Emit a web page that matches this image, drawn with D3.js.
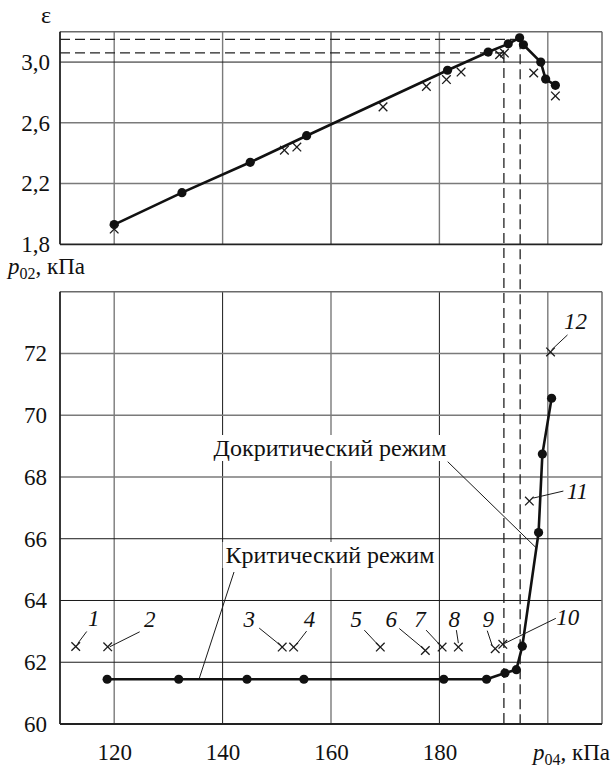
<!DOCTYPE html>
<html>
<head>
<meta charset="utf-8">
<script src="https://cdn.jsdelivr.net/npm/d3@7"></script>
<style>
  body { margin: 0; background: #fff; }
  svg { display: block; }
  text { font-family: "Liberation Serif", "Times New Roman", serif; }
</style>
</head>
<body>
<svg id="chart" width="611" height="767"></svg>
<script>
// Top chart: compression ratio vs p04 (dots = line, crosses = test points)
var p04Top = [120, 132.5, 145.1, 155.5, 181.5, 189.0, 192.7, 194.8, 195.5, 198.7, 199.6, 201.4];
var epsTop = [1.93, 2.14, 2.34, 2.515, 2.946, 3.066, 3.12, 3.16, 3.114, 3.0, 2.888, 2.847];
var p04TopCross = [120, 151.4, 153.7, 169.6, 177.6, 181.3, 184.0, 191.1, 192.0, 197.4, 201.4];
var epsTopCross = [1.90, 2.42, 2.44, 2.705, 2.84, 2.885, 2.934, 3.048, 3.059, 2.928, 2.777];

// Bottom chart: p02 vs p04
var p04Bot = [118.7, 131.9, 144.5, 155.0, 180.8, 188.7, 192.1, 194.2, 195.3, 198.3, 199.0, 200.7];
var p02Bot = [61.45, 61.45, 61.45, 61.45, 61.45, 61.45, 61.65, 61.76, 62.52, 66.2, 68.74, 70.55];
var crossIds = ["1", "2", "3", "4", "5", "6", "7", "8", "9", "10", "11", "12"];
var p04Cross = [112.9, 118.8, 151.0, 153.1, 169.1, 177.4, 180.5, 183.5, 190.3, 191.7, 196.6, 200.5];
var p02Cross = [62.51, 62.5, 62.49, 62.49, 62.49, 62.38, 62.49, 62.49, 62.44, 62.58, 67.22, 72.05];

// critical points marked with dashed lines
var critP04 = [191.9, 194.9];
var critEps = [3.06, 3.15];

// ticks
var xTicks = [120, 140, 160, 180];
var xGrid = [120, 140, 160, 180, 200];
var epsTicks = [1.8, 2.2, 2.6, 3.0];
var p02Ticks = [60, 62, 64, 66, 68, 70, 72];

// label placement for numbered crosses (label dx,dy ; leader start dx,dy ; leader end dx,dy)
var labelLayout = [
  [18, -20, 11, -15, 2, -3],
  [42, -20, 32, -15, 2, 0],
  [-33, -20, -23, -19, -2, -2],
  [16, -20, 13, -16, 3, -3],
  [-24, -20, -16, -17, -2, -2],
  [-34, -24, -26, -22, -2, -2],
  [-22, -20, -16, -17, -2, -2],
  [-4, -20, -2, -17, 0, -4],
  [-7, -22, -8, -18, -3, -3],
  [65, -19, 53, -26, 2, -1],
  [48, -2, 34, -10, 4, -3],
  [25, -23, 17, -17, 1, -2]
];

var FONT = "Liberation Serif, Times New Roman, serif";
var svg = d3.select("#chart");
var x = d3.scaleLinear().domain([110, 210]).range([60, 602]);
var yTop = d3.scaleLinear().domain([1.8, 3.2]).range([244.3, 31.7]);
var yBot = d3.scaleLinear().domain([60, 74]).range([724, 291.7]);

var ruFmt = d3.formatLocale({decimal: ",", thousands: " ", grouping: [3], currency: ["", ""]});

var gridLayer = svg.append("g");
var noteLayer = svg.append("g");
var markLayer = svg.append("g");

function panel(y, yTicks, darkX, darkY, fmt, pad) {
  var g = gridLayer.append("g");
  var y0 = y.range()[0], y1 = y.range()[1];
  // grid
  g.selectAll(".vg").data(xGrid).enter().append("line")
    .attr("x1", function(d) { return x(d); }).attr("x2", function(d) { return x(d); })
    .attr("y1", y0).attr("y2", y1)
    .attr("stroke", function(d) { return darkX.indexOf(d) >= 0 ? "#1a1a1a" : "#7a7a7a"; })
    .attr("stroke-width", function(d) { return darkX.indexOf(d) >= 0 ? 1 : 1.4; });
  g.selectAll(".hg").data(yTicks.slice(1)).enter().append("line")
    .attr("x1", 60).attr("x2", 602)
    .attr("y1", function(d) { return y(d); }).attr("y2", function(d) { return y(d); })
    .attr("stroke", function(d) { return darkY.indexOf(d) >= 0 ? "#1a1a1a" : "#7a7a7a"; })
    .attr("stroke-width", function(d) { return darkY.indexOf(d) >= 0 ? 1 : 1.4; });
  // frame: top/right light, left/bottom heavy
  g.append("line").attr("x1", 60).attr("x2", 602).attr("y1", y1).attr("y2", y1)
    .attr("stroke", "#6a6a6a").attr("stroke-width", 1.5);
  g.append("line").attr("x1", 602).attr("x2", 602).attr("y1", y1).attr("y2", y0)
    .attr("stroke", "#6a6a6a").attr("stroke-width", 1.5);
  g.append("line").attr("x1", 60).attr("x2", 602).attr("y1", y0).attr("y2", y0)
    .attr("stroke", "#222").attr("stroke-width", 1.8);
  g.append("line").attr("x1", 60).attr("x2", 60).attr("y1", y1).attr("y2", y0)
    .attr("stroke", "#222").attr("stroke-width", 1.8);
  // y axis labels
  var ax = g.append("g").attr("transform", "translate(60,0)")
    .call(d3.axisLeft(y).tickValues(yTicks).tickSize(0).tickPadding(pad).tickFormat(fmt));
  ax.select(".domain").remove();
  ax.attr("font-family", FONT).attr("font-size", 23);
  ax.selectAll("text").attr("fill", "#111");
}

panel(yTop, epsTicks, [160], [3.0], ruFmt.format(".1f"), 10);
panel(yBot, p02Ticks, [140, 180], [62, 64, 66], d3.format("d"), 13);

// x axis labels
var xa = gridLayer.append("g").attr("transform", "translate(0,724)")
  .call(d3.axisBottom(x).tickValues(xTicks).tickSize(0).tickPadding(20).tickFormat(d3.format("d")));
xa.select(".domain").remove();
xa.attr("font-family", FONT).attr("font-size", 23);
xa.selectAll("text").attr("fill", "#111");

// axis titles
svg.append("text").attr("x", 46).attr("y", 23).attr("text-anchor", "middle")
  .attr("font-family", FONT).attr("font-size", 24).attr("fill", "#111").text("ε");

function axisTitle(tx, ty, anchor, sub) {
  var t = svg.append("text").attr("x", tx).attr("y", ty).attr("text-anchor", anchor)
    .attr("font-family", FONT).attr("font-size", 23).attr("fill", "#111");
  t.append("tspan").attr("font-style", "italic").text("p");
  t.append("tspan").attr("font-size", 16).attr("dy", 5).text(sub);
  t.append("tspan").attr("dy", -5).text(", кПа");
}
axisTitle(8, 274, "start", "02");
axisTitle(610, 760, "end", "04");

// dashed guide lines
var dash = gridLayer.append("g").attr("stroke", "#222").attr("stroke-width", 1.3)
  .attr("stroke-dasharray", "10,5").attr("fill", "none");
critP04.forEach(function(p, i) {
  dash.append("line").attr("x1", x(110)).attr("x2", x(p))
    .attr("y1", yTop(critEps[i])).attr("y2", yTop(critEps[i]));
  dash.append("line").attr("x1", x(p)).attr("x2", x(p))
    .attr("y1", yTop(critEps[i])).attr("y2", yBot(60));
});

// regime annotations with white background
function note(txt, cx, base, lx1, ly1, lx2, ly2) {
  var bg = noteLayer.append("rect").attr("fill", "#fff");
  var t = noteLayer.append("text").attr("x", cx).attr("y", base).attr("text-anchor", "middle")
    .attr("font-family", FONT).attr("font-size", 24).attr("fill", "#111").text(txt);
  var b = t.node().getBBox();
  bg.attr("x", b.x - 3).attr("y", b.y).attr("width", b.width + 6).attr("height", b.height);
  noteLayer.append("line").attr("x1", lx1).attr("y1", ly1).attr("x2", lx2).attr("y2", ly2)
    .attr("stroke", "#1a1a1a").attr("stroke-width", 1);
}
note("Докритический режим", 330, 456, 447.7, 461.7, 536.7, 548.3);
note("Критический режим", 330, 563, 234, 572, 199, yBot(p02Bot[0]));

// data lines and markers
function series(px, py, y) {
  var pts = px.map(function(d, i) { return [x(d), y(py[i])]; });
  markLayer.append("path").datum(pts).attr("d", d3.line())
    .attr("fill", "none").attr("stroke", "#111").attr("stroke-width", 2.6)
    .attr("stroke-linejoin", "round");
  markLayer.append("g").selectAll("circle").data(pts).enter().append("circle")
    .attr("cx", function(d) { return d[0]; }).attr("cy", function(d) { return d[1]; })
    .attr("r", 4.6).attr("fill", "#111");
}
function crosses(px, py, y) {
  var g = markLayer.append("g").attr("stroke", "#1a1a1a").attr("stroke-width", 1.3);
  px.forEach(function(d, i) {
    var cx = x(d), cy = y(py[i]), s = 4.3;
    g.append("line").attr("x1", cx - s).attr("y1", cy - s).attr("x2", cx + s).attr("y2", cy + s);
    g.append("line").attr("x1", cx - s).attr("y1", cy + s).attr("x2", cx + s).attr("y2", cy - s);
  });
}
series(p04Top, epsTop, yTop);
crosses(p04TopCross, epsTopCross, yTop);
series(p04Bot, p02Bot, yBot);
crosses(p04Cross, p02Cross, yBot);

// numbered labels for the bottom crosses
crossIds.forEach(function(id, i) {
  var cx = x(p04Cross[i]), cy = yBot(p02Cross[i]), L = labelLayout[i];
  markLayer.append("line").attr("x1", cx + L[2]).attr("y1", cy + L[3])
    .attr("x2", cx + L[4]).attr("y2", cy + L[5])
    .attr("stroke", "#1a1a1a").attr("stroke-width", 1);
  markLayer.append("text").attr("x", cx + L[0]).attr("y", cy + L[1]).attr("text-anchor", "middle")
    .attr("font-family", FONT).attr("font-size", 23).attr("font-style", "italic")
    .attr("fill", "#111").text(id);
});
</script>
</body>
</html>
